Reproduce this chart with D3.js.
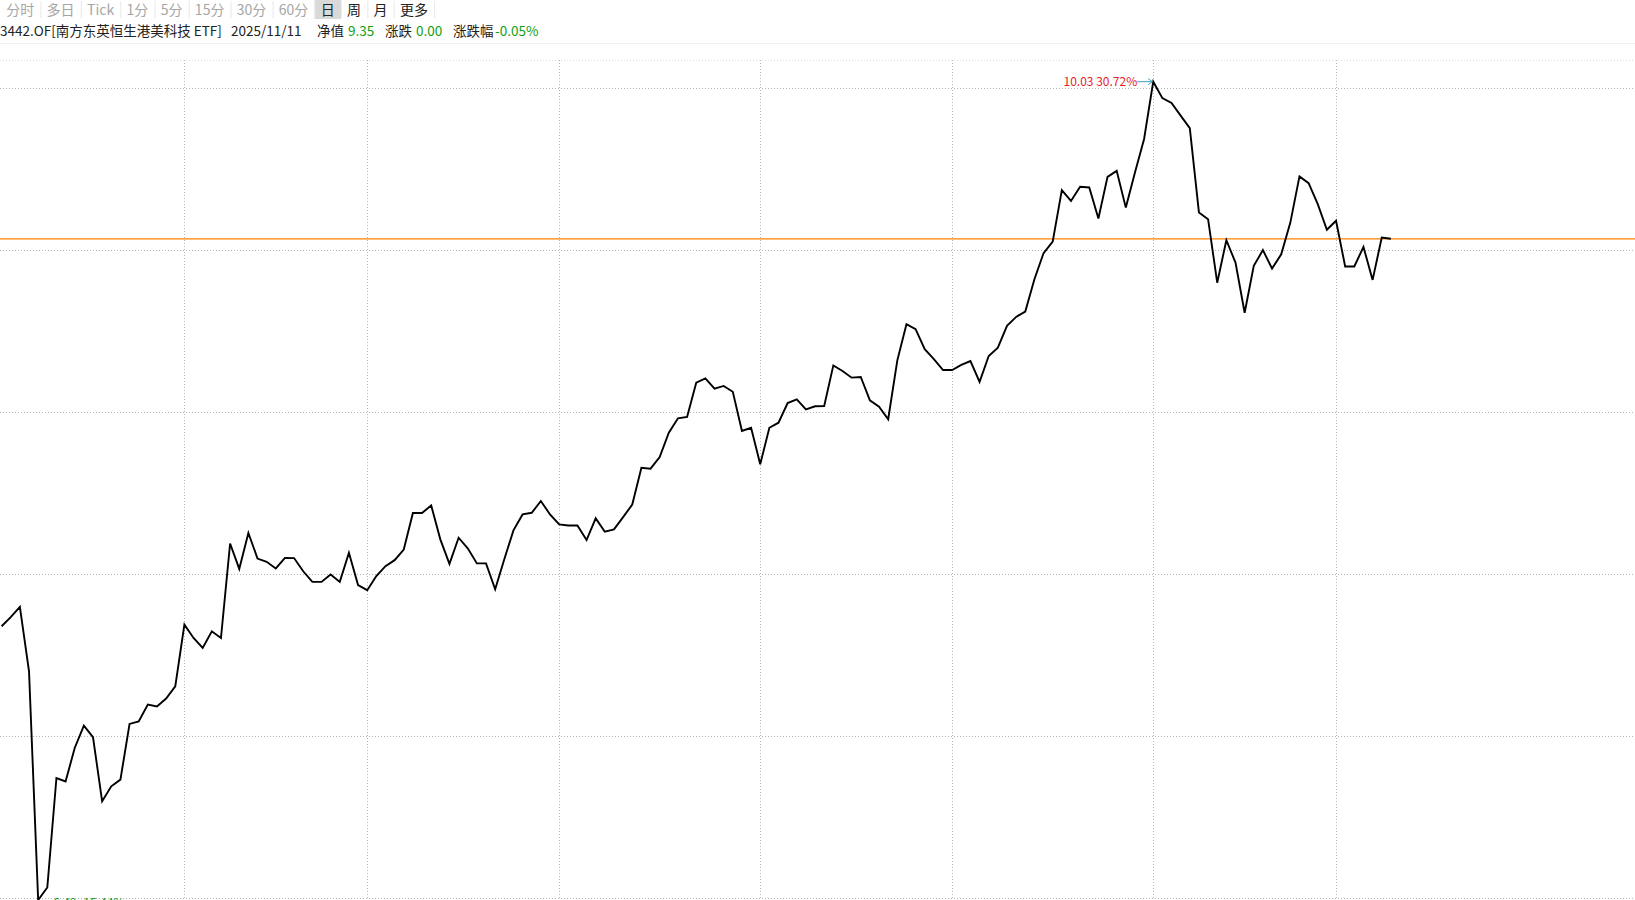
<!DOCTYPE html>
<html>
<head>
<meta charset="utf-8">
<script src="https://cdn.jsdelivr.net/npm/d3@7"></script>
<style>
  html, body { margin: 0; padding: 0; background: #fff; overflow: hidden; }
  svg { display: block; }
  text { font-family: "Noto Sans CJK SC", "Noto Sans", sans-serif; }
</style>
</head>
<body>
<svg id="chart" width="1635" height="900"></svg>
<script>
// ---------------- data ----------------
const tabLabels = ["分时", "多日", "Tick", "1分", "5分", "15分", "30分", "60分", "日", "周", "月", "更多"];
const tabEnabled = [false, false, false, false, false, false, false, false, true, true, true, true];
const activeTab = "日";

const fundTitle = "3442.OF[南方东英恒生港美科技 ETF]";
const currentDate = "2025/11/11";
const infoLabels = ["净值", "涨跌", "涨跌幅"];
const infoValues = ["9.35", "0.00", "-0.05%"];

// daily net values (153 trading days)
const navValues = [
  7.673, 7.712, 7.757, 7.478, 6.488, 6.542, 7.016, 7.001, 7.146, 7.243,
  7.193, 6.915, 6.980, 7.009, 7.250, 7.261, 7.334, 7.326, 7.360, 7.413,
  7.680, 7.622, 7.579, 7.651, 7.622, 8.031, 7.921, 8.077, 7.966, 7.952,
  7.923, 7.969, 7.968, 7.911, 7.865, 7.865, 7.897, 7.865, 7.991, 7.851,
  7.829, 7.890, 7.933, 7.959, 8.005, 8.163, 8.163, 8.196, 8.049, 7.943,
  8.056, 8.010, 7.945, 7.945, 7.833, 7.963, 8.088, 8.157, 8.164, 8.215,
  8.157, 8.114, 8.109, 8.109, 8.046, 8.140, 8.082, 8.092, 8.145, 8.200,
  8.359, 8.355, 8.405, 8.511, 8.573, 8.579, 8.727, 8.746, 8.701, 8.713,
  8.688, 8.518, 8.532, 8.374, 8.532, 8.554, 8.639, 8.655, 8.612, 8.625,
  8.626, 8.802, 8.778, 8.749, 8.752, 8.651, 8.623, 8.569, 8.824, 8.980,
  8.959, 8.872, 8.829, 8.782, 8.782, 8.804, 8.821, 8.731, 8.843, 8.879,
  8.973, 9.012, 9.035, 9.175, 9.288, 9.338, 9.561, 9.514, 9.575, 9.572,
  9.438, 9.618, 9.644, 9.485, 9.637, 9.782, 10.030, 9.959, 9.938, 9.883,
  9.829, 9.464, 9.435, 9.160, 9.344, 9.247, 9.030, 9.233, 9.301, 9.221,
  9.283, 9.420, 9.620, 9.591, 9.500, 9.389, 9.428, 9.230, 9.230, 9.315,
  9.172, 9.355, 9.350
];
// indices of first trading day of each month (vertical grid)
const monthStartIdx = [20, 40, 61, 83, 104, 126, 146];
// horizontal grid values
const gridValues = [10.001, 9.300, 8.599, 7.897, 7.196, 6.495];
// reference line (current net value)
const refValue = 9.35;

// ---------------- layout ----------------
const W = 1635, H = 900;
const svg = d3.select("#chart");
const N = navValues.length;

const x = d3.scaleLinear().domain([0, N - 1]).range([1.6, 1.6 + (N - 1) * 9.14]);
const y = d3.scaleLinear()
  .domain([d3.min(navValues), d3.max(navValues)])
  .range([900, 81.7]);

const gridColor = "#b4b4b4";

// ---------------- header: tabs ----------------
const tabG = svg.append("g");
let cursor = 0;
const tabPad = 6.2;
tabLabels.forEach((lab, i) => {
  const t = tabG.append("text")
    .attr("y", 15)
    .attr("font-size", 14)
    .attr("fill", tabEnabled[i] ? "#222" : "#a6a6a6")
    .text(lab);
  const w = t.node().getComputedTextLength();
  const cellW = w + tabPad * 2;
  if (lab === activeTab) {
    tabG.insert("rect", "text")
      .attr("x", cursor).attr("y", 0)
      .attr("width", cellW).attr("height", 19)
      .attr("fill", "#d9d9d9");
  }
  t.attr("x", cursor + tabPad);
  cursor += cellW;
  tabG.append("line")
    .attr("x1", cursor + 0.5).attr("x2", cursor + 0.5)
    .attr("y1", 1).attr("y2", 18)
    .attr("stroke", "#e8e8e8").attr("stroke-width", 1);
});

// ---------------- header: info row ----------------
const infoG = svg.append("g").attr("font-size", 13.5);
// start offsets of the info pieces (layout)
const infoX = [0, 231, 317, 348, 385, 416, 453, 495];
const pieces = [[fundTitle, "#222"], [currentDate, "#222"]];
infoLabels.forEach((lab, i) => { pieces.push([lab, "#222"]); pieces.push([infoValues[i], "#12a012"]); });
pieces.forEach((p, i) => {
  infoG.append("text").attr("x", infoX[i]).attr("y", 35.5).attr("fill", p[1]).text(p[0]);
});

// faint separator under header
svg.append("line")
  .attr("x1", 0).attr("x2", W).attr("y1", 43.5).attr("y2", 43.5)
  .attr("stroke", "#f0f0f0");

// ---------------- grid ----------------
const gridG = svg.append("g").attr("shape-rendering", "crispEdges");
gridG.append("line")
  .attr("x1", 0).attr("x2", W).attr("y1", 60.5).attr("y2", 60.5)
  .attr("stroke", "#dcdcdc").attr("stroke-dasharray", "1,2");

gridG.selectAll("line.h").data(gridValues).join("line")
  .attr("class", "h")
  .attr("x1", 0).attr("x2", W)
  .attr("y1", d => Math.round(y(d)) + 0.5).attr("y2", d => Math.round(y(d)) + 0.5)
  .attr("stroke", gridColor).attr("stroke-dasharray", "1,2");

gridG.selectAll("line.v").data(monthStartIdx).join("line")
  .attr("class", "v")
  .attr("x1", d => Math.round(x(d)) + 0.5).attr("x2", d => Math.round(x(d)) + 0.5)
  .attr("y1", 60).attr("y2", H)
  .attr("stroke", gridColor).attr("stroke-dasharray", "1,2");

// reference line
svg.append("line")
  .attr("x1", 0).attr("x2", W)
  .attr("y1", y(refValue)).attr("y2", y(refValue))
  .attr("stroke", "#ff8000").attr("stroke-width", 1.2);

// ---------------- NAV line ----------------
const line = d3.line().x((d, i) => x(i)).y(d => y(d));
svg.append("path")
  .datum(navValues)
  .attr("d", line)
  .attr("fill", "none")
  .attr("stroke", "#000")
  .attr("stroke-width", 1.9)
  .attr("stroke-linejoin", "miter");

// ---------------- extreme labels ----------------
const base = navValues[0];
const iMax = d3.maxIndex(navValues), iMin = d3.minIndex(navValues);
const pct = v => ((v / base - 1) * 100).toFixed(2) + "%";

// max label (left of point with arrow)
const mxX = x(iMax), mxY = y(navValues[iMax]);
svg.append("path")
  .attr("d", `M${mxX - 16},${mxY} L${mxX - 1},${mxY} M${mxX - 5},${mxY - 3} L${mxX - 1},${mxY} L${mxX - 5},${mxY + 3}`)
  .attr("fill", "none").attr("stroke", "#3a9fbf").attr("stroke-width", 1);
svg.append("text")
  .attr("x", mxX - 16).attr("y", mxY + 4)
  .attr("text-anchor", "end")
  .attr("font-size", 12)
  .attr("fill", "#e8202a")
  .text(navValues[iMax].toFixed(2) + " " + pct(navValues[iMax]));

// min label (right of point with arrow), partly below the visible area as in the source
const mnX = x(iMin), mnY = y(navValues[iMin]);
svg.append("path")
  .attr("d", `M${mnX + 1},${mnY + 3} L${mnX + 15},${mnY + 3}`)
  .attr("fill", "none").attr("stroke", "#3a9fbf").attr("stroke-width", 1);
svg.append("text")
  .attr("x", mnX + 15).attr("y", mnY + 7)
  .attr("font-size", 12)
  .attr("fill", "#12a012")
  .text(navValues[iMin].toFixed(2) + " " + pct(navValues[iMin]));
</script>
</body>
</html>
